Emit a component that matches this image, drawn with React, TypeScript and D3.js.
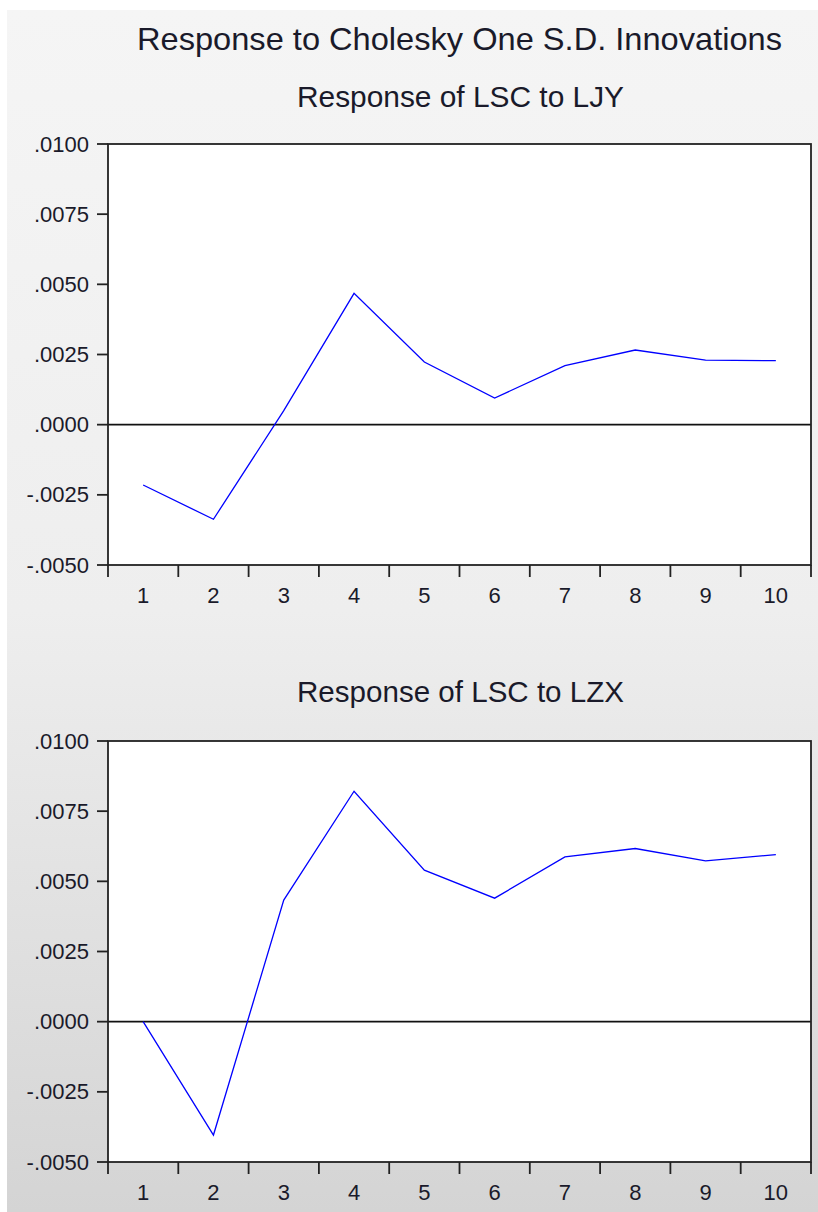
import React from "react";
import * as d3 from "d3";

const periods = ["1", "2", "3", "4", "5", "6", "7", "8", "9", "10"];
const yTicks = [-0.005, -0.0025, 0, 0.0025, 0.005, 0.0075, 0.01];
const ljyValues = [-0.00215, -0.00337, 0.0005, 0.00468, 0.00223, 0.00095, 0.0021, 0.00266, 0.0023, 0.00228];
const lzxValues = [0.0, -0.00404, 0.00433, 0.00821, 0.0054, 0.0044, 0.00587, 0.00617, 0.00573, 0.00595];
const mainTitle = "Response to Cholesky One S.D. Innovations";
const panelTitles = ["Response of LSC to LJY", "Response of LSC to LZX"];

const FONT = "'Liberation Sans', Arial, Helvetica, sans-serif";
const TXT = "#1a1a2a";

function fmt(v: number) {
  const s = Math.abs(v).toFixed(4).replace(/^0/, "");
  return (v < 0 ? "-" : "") + s;
}

function Panel({ top, values, title, titleY }: { top: number; values: number[]; title: string; titleY: number }) {
  const left = 108, right = 811, height = 421;
  const x = d3.scaleBand<string>().domain(periods).range([left, right]);
  const y = d3.scaleLinear().domain([-0.005, 0.01]).range([top + height, top]);
  const line = d3
    .line<number>()
    .x((_, i) => (x(periods[i]) as number) + x.bandwidth() / 2)
    .y((d) => y(d));
  const bottom = top + height;
  const boundaries = periods.map((p) => x(p) as number).concat([right]);
  return (
    <g>
      <text x={460.5} y={titleY} textAnchor="middle" fontFamily={FONT} fontSize={29.5} fill={TXT} textLength={327} lengthAdjust="spacingAndGlyphs">
        {title}
      </text>
      <rect x={left} y={top} width={right - left} height={height} fill="#ffffff" />
      <line x1={left} x2={right} y1={y(0)} y2={y(0)} stroke="#111" strokeWidth={1.6} />
      <path d={line(values) || ""} fill="none" stroke="#0000ff" strokeWidth={1.3} />
      <rect x={left} y={top} width={right - left} height={height} fill="none" stroke="#222" strokeWidth={1.8} />
      {yTicks.map((t) => (
        <g key={t}>
          <line x1={left - 11} x2={left} y1={y(t)} y2={y(t)} stroke="#222" strokeWidth={1.8} />
          <text x={89} y={y(t) + 7.5} textAnchor="end" fontFamily={FONT} fontSize={22} fill={TXT}>
            {fmt(t)}
          </text>
        </g>
      ))}
      {boundaries.map((b, i) => (
        <line key={i} x1={b} x2={b} y1={bottom} y2={bottom + 12} stroke="#222" strokeWidth={1.8} />
      ))}
      {periods.map((p) => (
        <text key={p} x={(x(p) as number) + x.bandwidth() / 2} y={bottom + 38} textAnchor="middle" fontFamily={FONT} fontSize={22} fill={TXT}>
          {p}
        </text>
      ))}
    </g>
  );
}

export default function App() {
  return (
    <svg width={818} height={1212} style={{ position: "absolute", left: 0, top: 0 }}>
      <defs>
        <linearGradient id="bg" x1="0" y1="0" x2="0" y2="1">
          <stop offset="0" stopColor="#f5f5f5" />
          <stop offset="0.5" stopColor="#eeeeee" />
          <stop offset="1" stopColor="#d4d4d4" />
        </linearGradient>
      </defs>
      <rect x={0} y={0} width={818} height={1212} fill="#ffffff" />
      <rect x={7} y={10} width={811} height={1202} fill="url(#bg)" />
      <text x={459.5} y={50} textAnchor="middle" fontFamily={FONT} fontSize={32} fill={TXT} textLength={645} lengthAdjust="spacingAndGlyphs">
        {mainTitle}
      </text>
      <Panel top={144} values={ljyValues} title={panelTitles[0]} titleY={107} />
      <Panel top={741} values={lzxValues} title={panelTitles[1]} titleY={702} />
    </svg>
  );
}
